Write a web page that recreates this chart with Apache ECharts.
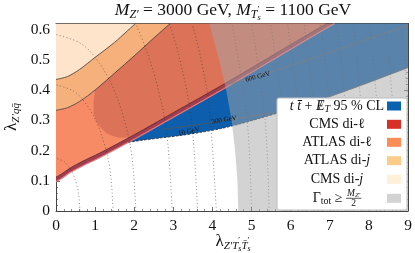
<!DOCTYPE html>
<html><head><meta charset="utf-8">
<script src="https://cdn.jsdelivr.net/npm/echarts@6/dist/echarts.min.js"></script>
<style>html,body{margin:0;padding:0;background:#fff}#c{width:415px;height:253px}</style>
</head><body><div id="c"></div><script>
// ---------- data (x = λ_Z'T'sT's, y = λ_Z'qq) ----------
const xRange = [0, 9];
const yRange = [0, 0.62];
const cmsDijBoundary = [[0,0.435],[0.3,0.445],[0.6,0.468],[1.0,0.508],[1.5,0.558],[2.03,0.62]];
const atlasDijLower = [[0,0.333],[0.3,0.342],[0.6,0.362],[1.0,0.40],[1.5,0.456],[2.0,0.513],[2.5,0.572],[2.92,0.62]];
const cmsDilLower = [[0,0.097],[0.15,0.108],[0.36,0.127],[0.69,0.15],[1.125,0.177],[2.0,0.237],[3.0,0.31],[4.3,0.405],[5.22,0.475],[6.0,0.535],[7.12,0.62]];
const cmsDilUpper = [[0,0.112],[0.15,0.123],[0.36,0.142],[0.69,0.165],[1.125,0.192],[2.0,0.252],[3.0,0.325],[4.3,0.42],[5.22,0.49],[6.0,0.55],[6.92,0.62]];
const atlasDilInner = [[1.0,0.40],[0.96,0.36],[0.96,0.325],[1.02,0.298],[1.125,0.278],[1.28,0.258],[1.46,0.247],[1.65,0.242],[1.85,0.243]];
const ttmetLower = [[1.85,0.227],[2.2,0.234],[2.7,0.242],[3.2,0.25],[3.7,0.26],[4.2,0.272],[4.7,0.288],[5.2,0.306],[5.7,0.325],[6.2,0.345],[7.0,0.378],[8.0,0.425],[9.0,0.474]];
const widthBoundary = [[3.92,0.62],[4.17,0.5],[4.35,0.4],[4.49,0.3],[4.58,0.2],[4.64,0.1],[4.66,0]];
const line10 = [[1.85,0.227],[2.2,0.234],[2.7,0.242],[3.2,0.25],[3.7,0.26],[4.2,0.272],[4.7,0.288],[5.2,0.306],[5.7,0.325]];
const line300 = [[2.7,0.27],[3.3,0.28],[3.9,0.291],[4.5,0.303],[5.0,0.314],[5.5,0.322],[5.7,0.325],[6.2,0.345],[7.0,0.378],[8.0,0.425],[9.0,0.474]];
const line600 = [[4.45,0.42],[5.5,0.46],[6.5,0.503],[7.5,0.547],[8.5,0.592],[9.0,0.614]];
const contours = [
  [[0.61,0],[0.582,0.052],[0.528,0.087],[0.436,0.122],[0.321,0.148],[0.19,0.165],[0,0.174]],
  [[1.46,0],[1.393,0.125],[1.264,0.209],[1.042,0.292],[0.769,0.354],[0.456,0.396],[0,0.417]],
  [[2.04,0],[1.946,0.175],[1.767,0.291],[1.457,0.408],[1.075,0.495],[0.637,0.554],[0,0.583]],
  [[2.97,0],[2.833,0.255],[2.572,0.424],[2.26,0.55],[2.03,0.62]],
  [[3.62,0],[3.453,0.31],[3.135,0.517],[2.9,0.62]],
  [[4.1,0],[3.91,0.351],[3.71,0.5],[3.48,0.62]],
  [[5.0,0],[4.88,0.31],[4.5,0.62]],
  [[5.45,0],[5.34,0.31],[5.0,0.62]],
  [[5.9,0],[5.80,0.31],[5.49,0.62]],
  [[6.3,0],[6.21,0.31],[5.92,0.62]],
  [[6.7,0],[6.61,0.31],[6.34,0.62]],
  [[7.1,0],[7.02,0.31],[6.76,0.62]],
  [[7.5,0],[7.42,0.31],[7.18,0.62]],
  [[7.9,0],[7.82,0.31],[7.6,0.62]],
  [[8.3,0],[8.23,0.31],[8.01,0.62]],
  [[8.7,0],[8.63,0.31],[8.42,0.62]],
  [[9.1,0],[9.02,0.31],[8.83,0.62]]
];
const lineLabels = [[3.40,0.263,'10 GeV',12],[4.30,0.301,'300 GeV',10],[5.16,0.444,'600 GeV',15]];
const legendNames = ['tt+MET 95 % CL','CMS di-l','ATLAS di-l','ATLAS di-j','CMS di-j','Gamma_tot >= M/2'];
const legendColors = ['#0a62b0','#d73027','#fc8d59','#fdcc8a','#fef0d9','#d3d3d3'];

// ---------- region polygons assembled from the boundaries ----------
const rev = a => a.slice().reverse();
const peachPoly = [[0,0.62]].concat(cmsDijBoundary);
const orangePoly = cmsDijBoundary.concat(rev(atlasDijLower));
const salmonPoly = atlasDijLower.concat(rev(cmsDilUpper));
const darkPoly = atlasDijLower.filter(p=>p[0]>=1.0).concat(rev(cmsDilUpper).filter(p=>p[0]>1.85), rev(atlasDilInner));
const bandPoly = cmsDilLower.concat(rev(cmsDilUpper));
const bluePoly = [ttmetLower[0]].concat(cmsDilLower.filter(p=>p[0]>1.85), [[9,0.62]], rev(ttmetLower));
const grayPoly = widthBoundary.concat([[9,0],[9,0.62]]);

const SERIF = '"Liberation Serif","DejaVu Serif",serif';
function polySeries(name, pts, fill, z){
  return {type:'custom', name, coordinateSystem:'cartesian2d', clip:true, silent:true, z,
    data:[pts[0]],
    renderItem:(params, api)=>({type:'polygon', shape:{points: pts.map(p=>api.coord(p))}, style:{fill, stroke:null}})};
}
function lineSeries(pts, color, width, type, z, smooth, opacity){
  return {type:'line', data:pts, showSymbol:false, symbol:'none', silent:true, z, smooth:smooth||false,
    lineStyle:{color, width, type:type||'solid', opacity: opacity==null?1:opacity}, animation:false};
}

// ---------- rich text layout helper (title, axis names, legend) ----------
const ctx = document.createElement('canvas').getContext('2d');
function fontStr(p){ return (p.it?'italic ':'') + p.s + 'px ' + SERIF; }
function measure(p){ ctx.font = fontStr(p); return ctx.measureText(p.t).width; }
function richGroup(pieces, x, y, align, rotation, z){
  let w = 0;
  const ws = pieces.map(p=>{ const m = p.w!=null ? p.w : measure(p); if(!p.noadv) w += m; return m; });
  let cx = align==='center' ? -w/2 : (align==='right' ? -w : 0);
  const children = [];
  pieces.forEach((p,i)=>{
    if (p.frac) {
      children.push(...p.build(cx, z));
    } else {
      children.push({type:'text', z, x: cx + (p.dx||0), y: p.dy||0, silent:true,
        style:{text:p.t, font:fontStr(p), fill:'#111', align:'left', textAlign:'left', verticalAlign:'middle', textVerticalAlign:'middle'}});
    }
    if(!p.noadv) cx += ws[i];
  });
  return {type:'group', x, y, rotation: rotation||0, z, children};
}

const T = 17.5, S1 = 12, S2 = 8.5;
const title = richGroup([
  {t:'M',s:T,it:1},{t:'Z′',s:S1,it:1,dy:4},{t:' = 3000 GeV, ',s:T},
  {t:'M',s:T,it:1},{t:'T',s:S1,it:1,dy:4},{t:'′',s:S2,dy:-1,noadv:1},{t:'s',s:S2,it:1,dy:7.5},{t:' = 1100 GeV',s:T}
], 233, 10.5, 'center', 0, 50);
const yName = richGroup([
  {t:'λ',s:17},{t:'Z′',s:11,it:1,dy:4},{t:'q',s:11,it:1,dy:4},{t:'q\u0304',s:11,it:1,dy:4}
], 12, 117, 'center', Math.PI/2, 50);
const xName = richGroup([
  {t:'λ',s:17},{t:'Z′',s:11,it:1,dy:4},{t:'T',s:11,it:1,dy:4},{t:'′',s:8,dy:-1,noadv:1},{t:'s',s:8,it:1,dy:7},
  {t:'T\u0304',s:11,it:1,dy:4},{t:'′',s:8,dy:-1,noadv:1},{t:'s',s:8,it:1,dy:7}
], 233, 242, 'center', 0, 50);

// legend
const L = 14, LX = 337, rowY = [106,124.3,142.3,160.7,179.3,198.3];
const fracNum = [{t:'M',s:9.5,it:1},{t:'Z′',s:7,it:1}];
const numW = measure(fracNum[0]) + measure(fracNum[1]);
const fracPiece = {frac:true, w:numW+2, build:(cx,z)=>[
  {type:'text', z, x:cx+1, y:-5, silent:true, style:{text:'M', font:fontStr(fracNum[0]), fill:'#111', align:'left', textAlign:'left', verticalAlign:'middle', textVerticalAlign:'middle'}},
  {type:'text', z, x:cx+1+measure(fracNum[0]), y:-3.5, silent:true, style:{text:'Z′', font:fontStr(fracNum[1]), fill:'#111', align:'left', textAlign:'left', verticalAlign:'middle', textVerticalAlign:'middle'}},
  {type:'line', z, silent:true, shape:{x1:cx, y1:0, x2:cx+numW+2, y2:0}, style:{stroke:'#111', lineWidth:0.7}},
  {type:'text', z, x:cx+1+numW/2, y:5.5, silent:true, style:{text:'2', font:fontStr({t:'2',s:9.5}), fill:'#111', align:'center', textAlign:'center', verticalAlign:'middle', textVerticalAlign:'middle'}}
]};
const legendRows = [
  [{t:'t',s:L,it:1},{t:' ',s:L},{t:'t\u0304',s:L,it:1},{t:' + ',s:L},{t:'/',s:L,noadv:1,dx:2.5},{t:'E',s:L,it:1},{t:'T',s:10,it:1,dy:3},{t:' 95 % CL',s:L}],
  [{t:'CMS di-',s:L},{t:'ℓ',s:L}],
  [{t:'ATLAS di-',s:L},{t:'ℓ',s:L}],
  [{t:'ATLAS di-',s:L},{t:'j',s:L,it:1}],
  [{t:'CMS di-',s:L},{t:'j',s:L,it:1}],
  [{t:'Γ',s:L},{t:'tot',s:10,dy:3},{t:' ≥ ',s:L},fracPiece]
];
const graphics = [title, yName, xName,
  {type:'rect', z:60, silent:true, shape:{x:277,y:98,width:130,height:112,r:2}, style:{fill:'#ffffff', stroke:'#bdbdbd', lineWidth:1}}];
legendRows.forEach((r,i)=>{
  graphics.push(richGroup(r, LX, rowY[i], 'center', 0, 70));
  graphics.push({type:'rect', z:70, silent:true, shape:{x:387,y:rowY[i]-4.5,width:14,height:9}, style:{fill:legendColors[i], stroke:null}});
});

const series = [
  polySeries('CMS di-j', peachPoly, '#fde4ca', 2),
  polySeries('ATLAS di-j', orangePoly, '#f5b07b', 2),
  polySeries('ATLAS di-l', salmonPoly, '#f78b66', 2),
  polySeries('ATLAS di-l core', darkPoly, '#dc7358', 2),
  polySeries('tt+MET', bluePoly, '#0d5fae', 2),
  polySeries('CMS di-l', bandPoly, '#a23d4d', 2)
];
contours.forEach(c=>series.push(lineSeries(c, '#333', 0.8, [1,2.5], 3, 0.35, 0.7)));
series.push(lineSeries(cmsDijBoundary, '#3a3a3a', 0.8, 'solid', 4, 0.3));
series.push(lineSeries(atlasDijLower, '#3a3a3a', 0.8, 'solid', 4, 0.3));
series.push(lineSeries(cmsDilUpper, '#5a1f2c', 0.8, 'solid', 4, 0.3));
series.push(lineSeries(cmsDilLower, '#e8797e', 1.1, 'solid', 4, 0.3));
series.push(lineSeries(line600, '#555', 0.8, 'solid', 4, 0.3));
series.push(lineSeries(line300, '#555', 0.8, 'solid', 4, 0.3));
series.push(lineSeries(line10, '#222', 0.8, [2.5,1.5], 4, 0.3));
series.push(polySeries('Gamma_tot', grayPoly, 'rgba(167,167,167,0.5)', 5));
series.push({type:'custom', coordinateSystem:'cartesian2d', silent:true, z:6, data:lineLabels.map(l=>[l[0],l[1]]),
  renderItem:(params, api)=>{ const l = lineLabels[params.dataIndex]; const p = api.coord([l[0],l[1]]);
    return {type:'text', x:p[0], y:p[1], rotation:l[3]*Math.PI/180,
      style:{text:l[2], font:'7px '+SERIF, fill:'#111', align:'center', textAlign:'center', verticalAlign:'middle', textVerticalAlign:'middle'}}; }});

const axisCommon = {
  axisLine:{show:true, onZero:false, lineStyle:{color:'#444', width:1}},
  axisTick:{show:true, inside:true, length:4, lineStyle:{color:'#444', width:0.8}},
  minorTick:{show:true, splitNumber:5, length:2, lineStyle:{color:'#444', width:0.6}},
  splitLine:{show:false}
};
const option = {
  animation:false,
  grid:{left:56, right:7, top:23.5, bottom:42},
  xAxis:[
    Object.assign({type:'value', min:xRange[0], max:xRange[1], interval:1, position:'bottom',
      axisLabel:{color:'#111', fontFamily:SERIF, fontSize:15.5, margin:7}}, axisCommon),
    Object.assign({type:'value', min:xRange[0], max:xRange[1], interval:1, position:'top', axisLabel:{show:false}}, axisCommon)
  ],
  yAxis:[
    Object.assign({type:'value', min:yRange[0], max:yRange[1], interval:0.1, position:'left',
      axisLabel:{color:'#111', fontFamily:SERIF, fontSize:15.5, margin:6, showMaxLabel:false,
        formatter:v=> (Math.abs(v)<1e-9 ? '0' : (Math.round(v*10)/10).toString())}}, axisCommon),
    Object.assign({type:'value', min:yRange[0], max:yRange[1], interval:0.1, position:'right', axisLabel:{show:false}}, axisCommon)
  ],
  series,
  graphic:{elements:graphics}
};
const chart = echarts.init(document.getElementById('c'), null, {renderer:'canvas'});
chart.setOption(option);
</script></body></html>
